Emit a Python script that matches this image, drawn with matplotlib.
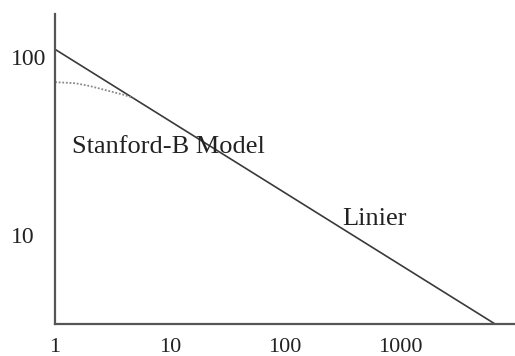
import numpy as np
import matplotlib.pyplot as plt

# straight-line (linear on log-log) model
linier_x = [1, 6700]
linier_y = [110, 3.16]

# Stanford-B model curve, flattening at small x
stanford_x = [1.0, 1.5, 2.0, 3.0, 4.0, 4.8]
stanford_y = [72, 71, 68.5, 64, 61, 58.7]

x_ticks = [1, 10, 100, 1000]
x_tick_labels = ['1', '10', '100', '1000']
y_ticks = [10, 100]
y_tick_labels = ['10', '100']

plt.rcParams.update({'font.family': 'Liberation Serif', 'font.size': 16})
fig = plt.figure(figsize=(5.15, 3.56), dpi=100)
ax = fig.add_axes([0.107, 0.09, 0.893, 0.871])

ax.plot(linier_x, linier_y, color='#3a3a3a', linewidth=1.2, solid_capstyle='butt')
ax.plot(stanford_x, stanford_y, color='#8a8a8a', linewidth=1.3, linestyle=(0, (1, 1)))

ax.set_xscale('log')
ax.set_yscale('log')
ax.set_xlim(1, 10000)
ax.set_ylim(3.16, 174)

ax.set_xticks(x_ticks)
ax.set_xticklabels(x_tick_labels, fontsize=16)
ax.set_yticks(y_ticks)
ax.set_yticklabels(y_tick_labels, fontsize=17, ha='left')
ax.minorticks_off()
ax.tick_params(length=0, colors='#222222')
ax.tick_params(axis='x', pad=10)
ax.tick_params(axis='y', pad=32)

for side in ['top', 'right']:
    ax.spines[side].set_visible(False)
for side in ['left', 'bottom']:
    ax.spines[side].set_color('#555555')
    ax.spines[side].set_linewidth(1.6)

ax.text(1.4, 31, 'Stanford-B Model', va='center', ha='left', color='#222222', fontsize=19)
ax.text(313, 12.3, 'Linier', va='center', ha='left', color='#222222', fontsize=19)

plt.savefig('out.png', dpi=100)
